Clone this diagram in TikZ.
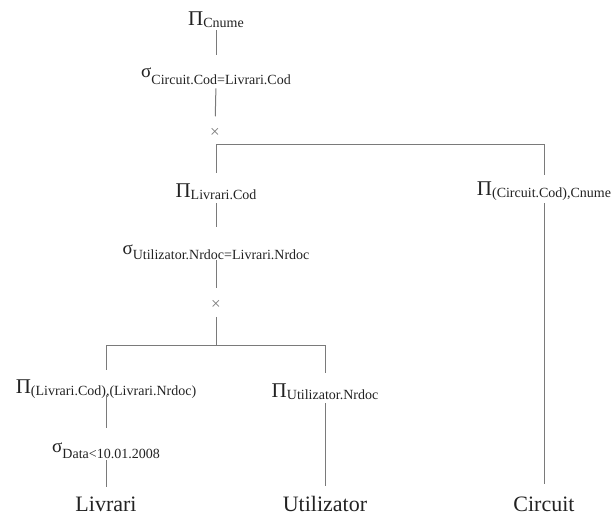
\documentclass[tikz,border=0pt]{standalone}
\usepackage{fontspec}
\setmainfont{Liberation Serif}
\definecolor{txt}{HTML}{222222}
\definecolor{ln}{HTML}{7A7A7A}
\newcommand\bigop[2]{{\fontsize{21}{21}\selectfont #1}\raisebox{-2pt}{\fontsize{14}{14}\selectfont #2}}
\newcommand\selop[3]{{\fontsize{19}{19}\selectfont σ}\raisebox{-#3}{\fontsize{14}{14}\selectfont #2}}
\tikzset{
  lbl/.style={inner sep=0pt, text=txt, anchor=base},
  rel/.style={inner sep=0pt, text=txt, anchor=base, font=\fontsize{22}{22}\selectfont},
  crs/.style={inner sep=0pt, text=ln, anchor=center, font=\fontsize{17}{17}\selectfont},
  conn/.style={draw=ln, line width=1pt},
}
\begin{document}
\begin{tikzpicture}[x=1pt,y=-1pt]
\useasboundingbox (0,0) rectangle (616,515);
% nodes
\node[lbl] (pc)  at (216,25)  {\bigop{Π}{Cnume}};
\node[lbl] (s1)  at (216,77)  {\selop{}{Circuit.Cod=Livrari.Cod}{7pt}};
\node[crs] (x1)  at (215,133) {×};
\coordinate (j1) at (216,144);
\node[lbl] (plc) at (216,197) {\bigop{Π}{Livrari.Cod}};
\node[lbl] (pcc) at (544,195) {\bigop{Π}{(Circuit.Cod),Cnume}};
\node[lbl] (s2)  at (216,254) {\selop{}{Utilizator.Nrdoc=Livrari.Nrdoc}{5pt}};
\node[crs] (x2)  at (216,305) {×};
\coordinate (j2) at (216,345);
\node[lbl] (pll) at (106,393) {\bigop{Π}{(Livrari.Cod),(Livrari.Nrdoc)}};
\node[lbl] (pun) at (325,397) {\bigop{Π}{Utilizator.Nrdoc}};
\node[lbl] (s3)  at (106,452) {\selop{}{Data<10.01.2008}{6pt}};
\node[rel] (liv) at (106,511) {Livrari};
\node[rel] (uti) at (325,511) {Utilizator};
\node[rel] (cir) at (544,511) {Circuit};
% connectors
\draw[conn, shorten <=3pt, shorten >=12pt] (pc.south) -- (s1.north);
\draw[conn, shorten <=4pt, shorten >=12pt] (s1.south) -- (x1.north);
\draw[conn, shorten >=10pt] (j1) -- (plc.north);
\draw[conn, shorten >=6pt] (j1) -| (pcc.north);
\draw[conn, shorten <=4pt, shorten >=17pt] (plc.south) -- (s2.north);
\draw[conn, shorten <=1pt, shorten >=12pt] (s2.south) -- (x2.north);
\draw[conn, shorten <=7pt] (x2.south) -- (j2);
\draw[conn, shorten >=9pt] (j2) -| (pll.north);
\draw[conn, shorten >=10pt] (j2) -| (pun.north);
\draw[conn, shorten <=-3pt, shorten >=14pt] (pll.south) -- (s3.north);
\draw[conn, shorten <=2pt, shorten >=9pt] (s3.south) -- (liv.north);
\draw[conn, shorten <=4pt, shorten >=10pt] (pun.south) -- (uti.north);
\draw[conn, shorten <=3pt, shorten >=12pt] (pcc.south) -- (cir.north);
\end{tikzpicture}
\end{document}
